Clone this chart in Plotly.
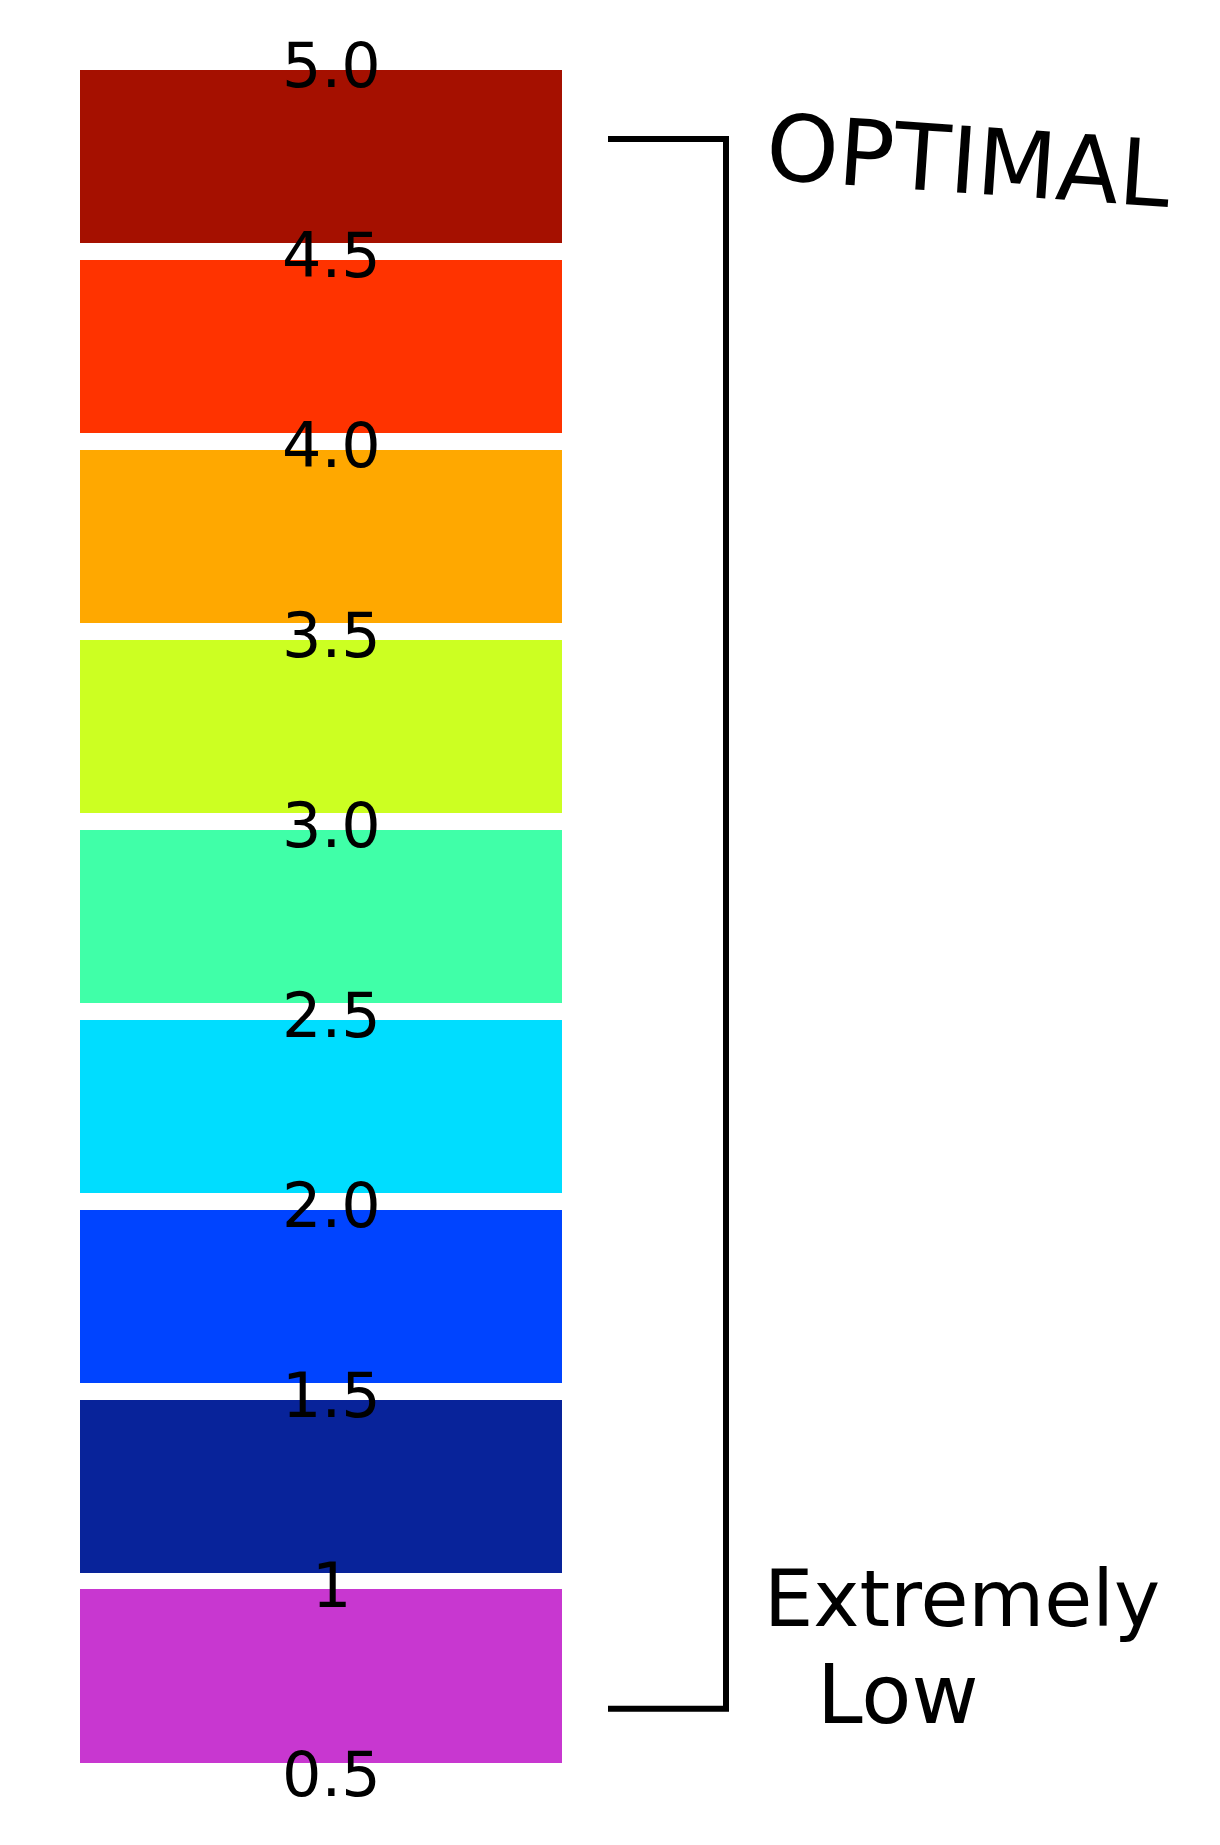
import plotly.graph_objects as go

# ---- data ----
band_low = [4.5, 4.0, 3.5, 3.0, 2.5, 2.0, 1.5, 1.0, 0.5]
band_high = [5.0, 4.5, 4.0, 3.5, 3.0, 2.5, 2.0, 1.5, 1.0]
band_colors = ["#A51000", "#FF3300", "#FFA800", "#CCFF22", "#40FFA8",
               "#00DDFF", "#0044FF", "#08239A", "#C837D0"]
tick_values = [5.0, 4.5, 4.0, 3.5, 3.0, 2.5, 2.0, 1.5, 1.0, 0.5]
tick_labels = ["5.0", "4.5", "4.0", "3.5", "3.0", "2.5", "2.0", "1.5", "1", "0.5"]
bracket_range = [0.664, 4.797]
top_label = "OPTIMAL"
bottom_label = ["Extremely", "Low"]

# ---- layout constants ----
W, H = 1220, 1845
BAR_LEFT, BAR_RIGHT = 80, 562
BAR_CENTER = (BAR_LEFT + BAR_RIGHT) / 2
INSET = 0.022
BR_X0, BR_X1 = 608, 726
Y_RANGE = [0.305, 5.163]

fig = go.Figure()

fig.add_trace(go.Bar(
    x=[BAR_CENTER] * len(band_low),
    base=[lo + INSET for lo in band_low],
    y=[hi - lo - 2 * INSET for lo, hi in zip(band_low, band_high)],
    width=BAR_RIGHT - BAR_LEFT,
    marker=dict(color=band_colors, line=dict(width=0)),
    hoverinfo="skip",
    showlegend=False,
))

fig.add_trace(go.Scatter(
    x=[BR_X0, BR_X1, BR_X1, BR_X0],
    y=[bracket_range[1], bracket_range[1], bracket_range[0], bracket_range[0]],
    mode="lines",
    line=dict(color="black", width=6),
    hoverinfo="skip",
    showlegend=False,
))

annotations = []
for v, t in zip(tick_values, tick_labels):
    annotations.append(dict(
        x=BAR_CENTER + 10, y=v, xref="x", yref="y", text=t, showarrow=False,
        font=dict(family="DejaVu Sans", size=62, color="black"),
        xanchor="center", yanchor="middle", yshift=-4,
    ))

annotations.append(dict(
    x=968, y=bracket_range[1], xref="x", yref="y", text=top_label, showarrow=False,
    font=dict(family="DejaVu Sans", size=92, color="black"),
    xanchor="center", yanchor="middle", textangle=4, yshift=-22,
))
annotations.append(dict(
    x=962, y=bracket_range[0], xref="x", yref="y", text=bottom_label[0], showarrow=False,
    font=dict(family="DejaVu Sans", size=78, color="black"),
    xanchor="center", yanchor="middle", yshift=110,
))
annotations.append(dict(
    x=897, y=bracket_range[0], xref="x", yref="y", text=bottom_label[1], showarrow=False,
    font=dict(family="DejaVu Sans", size=82, color="black"),
    xanchor="center", yanchor="middle", yshift=14,
))

fig.update_layout(
    width=W, height=H,
    margin=dict(l=0, r=0, t=0, b=0),
    paper_bgcolor="white", plot_bgcolor="white",
    xaxis=dict(range=[0, W], visible=False, fixedrange=True),
    yaxis=dict(range=Y_RANGE, visible=False, fixedrange=True),
    annotations=annotations,
    bargap=0,
)

fig.write_html("out.html")
